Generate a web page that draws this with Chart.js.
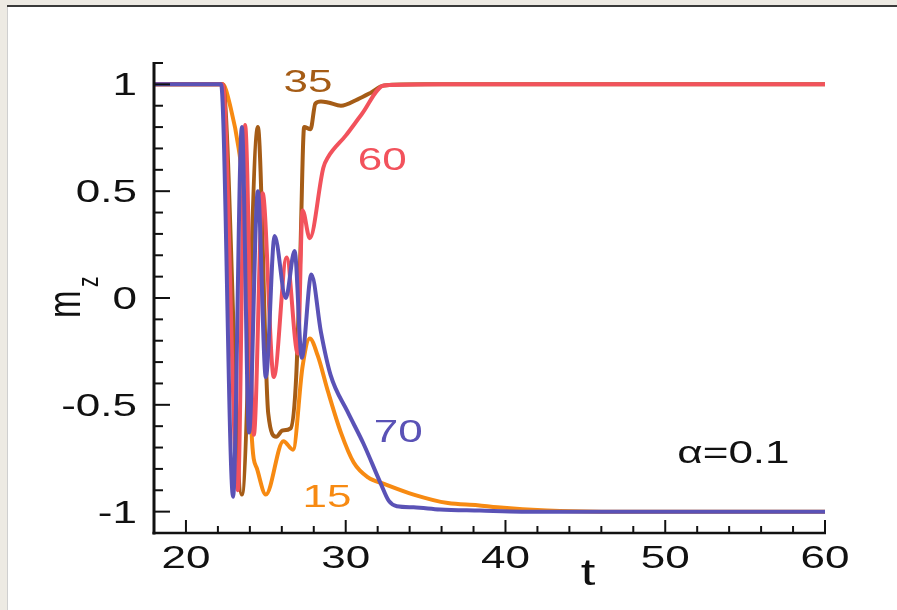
<!DOCTYPE html>
<html>
<head>
<meta charset="utf-8">
<script src="https://cdn.jsdelivr.net/npm/chart.js@4"></script>
<style>
  html, body { margin: 0; padding: 0; background: #fff; }
  #wrap { position: relative; width: 897px; height: 610px; }
</style>
</head>
<body>
<div id="wrap"><canvas id="mzChart" width="897" height="610"></canvas></div>
<script>
// m_z(t) curves (label 15, 35, 60, 70)
var t15 = [18, 22.3, 22.8, 23.3, 23.6, 23.95, 24.1, 24.45, 25.0, 26.1, 26.7, 27.3, 27.75, 28.25, 28.9, 29.7, 30.5, 31.4, 32.4, 34.25, 36.4, 38.25, 39.5, 42.6, 46, 60];
var m15 = [1, 1, 0.89, 0.70, 0.51, 0.0, -0.62, -0.80, -0.92, -0.67, -0.71, -0.32, -0.19, -0.27, -0.44, -0.63, -0.77, -0.84, -0.87, -0.92, -0.96, -0.97, -0.98, -0.995, -1, -1];

var t35 = [18, 22.3, 23.5, 24.5, 25.15, 25.65, 26.05, 26.55, 26.9, 27.15, 27.4, 27.8, 28.1, 28.45, 28.9, 29.7, 30.75, 31.55, 32.4, 35, 60];
var m35 = [1, 1, -0.92, 0.8, -0.54, -0.65, -0.62, -0.61, -0.37, 0.18, 0.8, 0.79, 0.91, 0.92, 0.915, 0.9, 0.93, 0.96, 0.995, 1, 1];

var t60 = [18, 22.3, 23.25, 23.7, 24.25, 24.8, 25.5, 26.3, 27.0, 27.3, 27.75, 28.6, 28.9, 30.0, 31.0, 32.4, 36, 60];
var m60 = [1, 1, -0.9, 0.81, -0.64, 0.49, -0.37, 0.19, -0.26, 0.41, 0.28, 0.61, 0.66, 0.76, 0.86, 0.995, 1, 1];

var t70 = [18, 22.2, 22.95, 23.5, 23.95, 24.5, 25.0, 25.55, 26.25, 26.8, 27.25, 27.85, 28.45, 29.05, 30.1, 31.1, 32.2, 32.7, 33.2, 34.25, 35.9, 38.4, 41, 60];
var m70 = [1, 1, -0.93, 0.8, -0.63, 0.5, -0.37, 0.29, 0.0, 0.22, -0.28, 0.11, -0.16, -0.36, -0.53, -0.68, -0.87, -0.95, -0.975, -0.98, -0.99, -0.995, -1, -1];

// axes
var xTicks = [20, 30, 40, 50, 60];
var xTickLabels = ["20", "30", "40", "50", "60"];
var yTicks = [-1, -0.5, 0, 0.5, 1];
var yTickLabels = ["-1", "-0.5", "0", "0.5", "1"];

var colors = {
  c15: "#F78A12",
  c35: "#A55C16",
  c60: "#F2525C",
  c70: "#5A52B6"
};

// curve labels, placed in data coords (left edge, baseline)
var notes = [
  { text: "35", t: 26.1, m: 0.965, color: colors.c35 },
  { text: "60", t: 30.75, m: 0.6, color: colors.c60 },
  { text: "70", t: 31.75, m: -0.675, color: colors.c70 },
  { text: "15", t: 27.3, m: -0.98, color: colors.c15 },
  { text: "\u03B1=0.1", t: 50.75, m: -0.77, color: "#111" }
];

function pts(ts, ms) {
  return ts.map(function (t, i) { return { x: t, y: ms[i] }; });
}

var SX = 1.42; // text in the picture is stretched sideways
var FONT = "Liberation Sans, Arial, sans-serif";

function stretchText(ctx, txt, x, y, size, color, align, base) {
  ctx.save();
  ctx.translate(x, y);
  ctx.scale(SX, 1);
  ctx.font = size + "px " + FONT;
  ctx.fillStyle = color;
  ctx.textAlign = align;
  ctx.textBaseline = base;
  ctx.fillText(txt, 0, 0);
  ctx.restore();
}

var framePlugin = {
  id: "frame",
  beforeDraw: function (chart) {
    var ctx = chart.ctx;
    ctx.save();
    ctx.fillStyle = "#fff";
    ctx.fillRect(0, 0, chart.width, chart.height);
    ctx.fillStyle = "#EDEAE3";
    ctx.fillRect(0, 0, chart.width, 6);
    ctx.fillRect(0, 0, 7, chart.height);
    ctx.fillStyle = "#3a3a3a";
    ctx.fillRect(7, 5, chart.width - 7, 2);
    ctx.fillStyle = "#cfcfcf";
    ctx.fillRect(7, 7, 1, chart.height - 7);
    ctx.restore();
  },
  afterDraw: function (chart) {
    var ctx = chart.ctx;
    var xs = chart.scales.x, ys = chart.scales.y;
    var x0 = xs.getPixelForValue(xs.min), x1 = xs.getPixelForValue(xs.max);
    var y0 = ys.getPixelForValue(ys.min), y1 = ys.getPixelForValue(ys.max);
    ctx.save();
    ctx.strokeStyle = "#111";
    ctx.lineCap = "butt";

    // axis lines
    ctx.lineWidth = 3;
    ctx.beginPath();
    ctx.moveTo(x0, y1 - 1); ctx.lineTo(x0, y0 + 1.5);
    ctx.stroke();
    ctx.lineWidth = 2.5;
    ctx.beginPath();
    ctx.moveTo(x0 - 1.5, y0); ctx.lineTo(x1 + 1, y0);
    ctx.stroke();

    // ticks pointing inward
    ctx.lineWidth = 2;
    var v, p;
    for (v = 18; v <= 60; v += 2) {
      p = xs.getPixelForValue(v);
      var major = xTicks.indexOf(v) >= 0;
      ctx.beginPath();
      ctx.moveTo(p, y0); ctx.lineTo(p, y0 - (major ? 13 : 7));
      ctx.stroke();
    }
    for (var k = -11; k <= 11; k++) {
      v = k / 10;
      p = ys.getPixelForValue(v);
      var ymaj = (k % 5 === 0);
      ctx.beginPath();
      ctx.moveTo(x0, p); ctx.lineTo(x0 + (ymaj ? 16 : 9), p);
      ctx.stroke();
    }
    ctx.restore();

    // tick labels
    xTicks.forEach(function (tv, i) {
      stretchText(ctx, xTickLabels[i], xs.getPixelForValue(tv), y0 + 35, 31, "#111", "center", "alphabetic");
    });
    yTicks.forEach(function (tv, i) {
      stretchText(ctx, yTickLabels[i], x0 - 17, ys.getPixelForValue(tv) + 11, 31, "#111", "right", "alphabetic");
    });

    // axis titles
    stretchText(ctx, "t", 588, 585, 37, "#111", "center", "alphabetic");
    ctx.save();
    ctx.translate(80, 318);
    ctx.scale(SX, 1);
    ctx.rotate(-Math.PI / 2);
    ctx.fillStyle = "#111";
    ctx.textBaseline = "alphabetic";
    ctx.textAlign = "left";
    ctx.font = "33px " + FONT;
    ctx.fillText("m", 0, 0);
    ctx.font = "21px " + FONT;
    ctx.fillText("z", 31, 12.5);
    ctx.restore();

    // curve labels
    notes.forEach(function (n) {
      stretchText(ctx, n.text, xs.getPixelForValue(n.t), ys.getPixelForValue(n.m), 31, n.color, "left", "alphabetic");
    });
  }
};

function series(label, ts, ms, color) {
  return {
    label: label,
    data: pts(ts, ms),
    borderColor: color,
    backgroundColor: color,
    borderWidth: 4,
    pointRadius: 0,
    fill: false,
    cubicInterpolationMode: "monotone"
  };
}

new Chart("mzChart", {
  type: "line",
  data: {
    datasets: [
      series("70", t70, m70, colors.c70),
      series("60", t60, m60, colors.c60),
      series("35", t35, m35, colors.c35),
      series("15", t15, m15, colors.c15)
    ]
  },
  options: {
    responsive: false,
    animation: false,
    layout: { padding: { left: 154, right: 72, top: 63, bottom: 77 } },
    scales: {
      x: { type: "linear", min: 18, max: 60, display: false },
      y: { type: "linear", min: -1.1, max: 1.1, display: false }
    },
    plugins: {
      legend: { display: false },
      tooltip: { enabled: false }
    }
  },
  plugins: [framePlugin]
});
</script>
</body>
</html>
